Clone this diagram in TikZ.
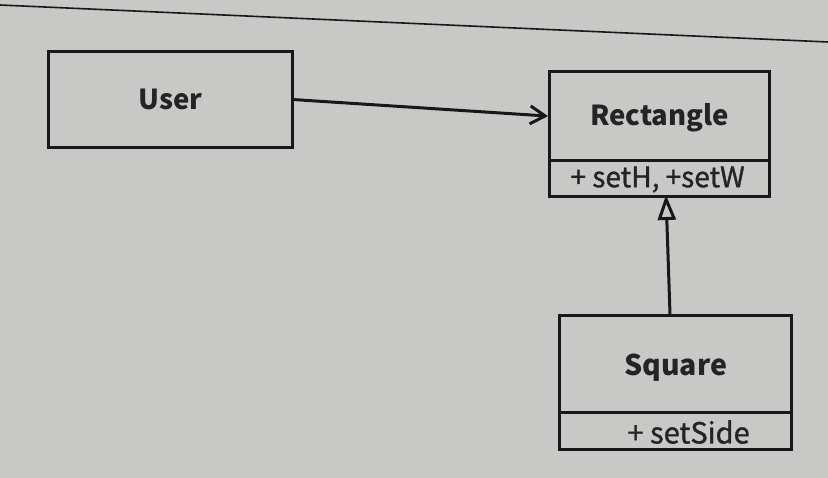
\documentclass[tikz,border=0pt]{standalone}
\usepackage{fontspec}
\setmainfont{Noto Sans CJK KR}
\newfontfamily\opfont[FakeBold=1.2]{Noto Sans CJK KR}
\usetikzlibrary{arrows.meta}
\definecolor{paper}{RGB}{200,200,198}
\definecolor{ink}{RGB}{24,24,24}
\definecolor{txt}{RGB}{36,36,36}
\tikzset{
  box/.style={draw=ink, line width=3.2pt, inner sep=0pt, anchor=north west},
  clsname/.style={font=\bfseries\fontsize{27.5}{30}\selectfont, text=txt},
  clsop/.style={font=\opfont\fontsize{28}{30}\selectfont, text=txt},
}
\begin{document}
\begin{tikzpicture}[x=1pt,y=-1pt]
\useasboundingbox (0,0) rectangle (828,478);
\fill[paper] (0,0) rectangle (828,478);
% page rule at the top
\coordinate (ruleL) at (0,5);
\coordinate (ruleR) at (828,42);
\draw[ink, line width=1.6pt] (ruleL) -- (ruleR);
% User
\node[box, minimum width=244pt, minimum height=96pt] (user) at (47,50) {};
\node[clsname] (userT) at (user.center) {User};
% Rectangle
\node[box, minimum width=220pt, minimum height=89pt] (rect) at (548,70) {};
\node[box, minimum width=220pt, minimum height=36pt] (rectops) at (548,159) {};
\node[clsname] (rectT) at ([yshift=-2pt]rect.center) {Rectangle};
\node[clsop] (rectO) at ([xshift=-2pt,yshift=-1pt]rectops.center) {+ setH, +setW};
% Square
\node[box, minimum width=232pt, minimum height=97pt] (sq) at (558,314) {};
\node[box, minimum width=232pt, minimum height=37pt] (sqops) at (558,411) {};
\node[clsname, font=\bfseries\fontsize{28.5}{30}\selectfont] (sqT) at ([yshift=-4pt]sq.center) {Square};
\node[clsop, font=\opfont\fontsize{29}{30}\selectfont] (sqO) at ([xshift=13pt,yshift=-1pt]sqops.center) {+ setSide};
% connectors
\draw[ink, line width=3pt, -{Straight Barb[length=15pt,width=18pt,line width=3pt]}]
  (user.east) -- (rect.west);
\coordinate (sqtop) at (670,314);
\coordinate (rectbot) at (666,195);
\draw[ink, line width=3pt, -{Triangle[open, length=25pt, width=18pt, line width=3pt]}]
  (sqtop) -- (rectbot);
\end{tikzpicture}
\end{document}
